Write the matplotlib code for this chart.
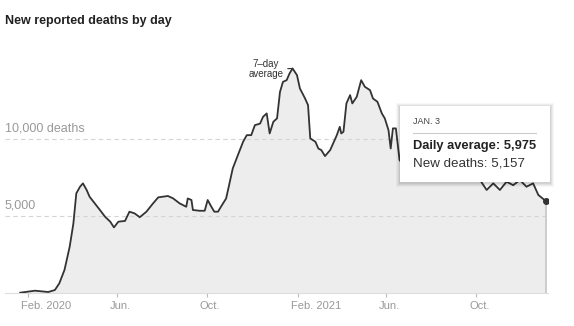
import pandas as pd
import matplotlib
matplotlib.use("Agg")
import matplotlib.pyplot as plt
import matplotlib.dates as mdates
import matplotlib.patches as mpatches
import matplotlib.transforms as mtransforms

# -------------------------------------------
# Data (7-day average of new deaths)
# -------------------------------------------
dates = [
    "2020-01-22", "2020-02-11", "2020-02-29", "2020-03-09", "2020-03-15", "2020-03-22",
    "2020-03-29", "2020-04-03", "2020-04-07", "2020-04-12", "2020-04-16", "2020-04-21",
    "2020-04-25", "2020-05-02", "2020-05-09", "2020-05-16", "2020-05-23", "2020-05-28",
    "2020-06-03", "2020-06-12", "2020-06-18", "2020-06-25", "2020-07-02", "2020-07-11",
    "2020-07-20", "2020-07-27", "2020-08-09", "2020-08-16", "2020-08-25", "2020-09-03",
    "2020-09-05", "2020-09-10", "2020-09-12", "2020-09-21", "2020-09-28", "2020-10-02",
    "2020-10-07", "2020-10-11", "2020-10-16", "2020-10-20", "2020-10-27", "2020-10-31",
    "2020-11-05", "2020-11-12", "2020-11-19", "2020-11-24", "2020-11-30", "2020-12-05",
    "2020-12-12", "2020-12-16", "2020-12-21", "2020-12-25", "2020-12-30", "2021-01-04",
    "2021-01-08", "2021-01-12", "2021-01-17", "2021-01-21", "2021-01-25", "2021-01-31",
    "2021-02-04", "2021-02-11", "2021-02-15", "2021-02-18", "2021-02-25", "2021-03-01",
    "2021-03-05", "2021-03-10", "2021-03-17", "2021-03-21", "2021-03-26", "2021-03-30",
    "2021-04-01", "2021-04-04", "2021-04-08", "2021-04-13", "2021-04-16", "2021-04-22",
    "2021-04-28", "2021-05-03", "2021-05-10", "2021-05-14", "2021-05-20", "2021-05-26",
    "2021-05-30", "2021-06-04", "2021-06-07", "2021-06-10", "2021-06-14", "2021-06-19",
    "2021-07-05", "2021-07-20", "2021-08-05", "2021-08-25", "2021-09-10", "2021-09-25",
    "2021-10-06", "2021-10-15", "2021-10-24", "2021-11-02", "2021-11-11", "2021-11-20",
    "2021-11-29", "2021-12-08", "2021-12-17", "2021-12-24", "2022-01-03",
]
avg_deaths = [
    20, 150, 65, 195, 630, 1500,
    3000, 4500, 6470, 6900, 7120, 6690,
    6250, 5820, 5390, 4950, 4630, 4260,
    4630, 4680, 5280, 5170, 4920, 5280,
    5820, 6210, 6300, 6150, 5820, 5600,
    6140, 6040, 5390, 5340, 5340, 6040,
    5600, 5280, 5280, 5600, 6140, 7000,
    8090, 8960, 9820, 10250, 10250, 10900,
    11000, 11440, 11660, 10360, 11120, 11340,
    13060, 13710, 13820, 14260, 14580, 14150,
    13280, 12630, 12200, 10040, 9820, 9380,
    9280, 8890, 9280, 9710, 10250, 10790,
    10360, 10470, 12310, 12850, 12310, 12740,
    13820, 13390, 13170, 12630, 12420, 11660,
    11340, 10580, 9380, 10690, 10690, 8640,
    7600, 8200, 9500, 10000, 9200, 8200,
    7340, 6690, 7120, 6690, 7230, 7000,
    7340, 6900, 7120, 6370, 5975,
]

tick_dates = ["2020-02-01", "2020-06-01", "2020-10-01", "2021-02-01", "2021-06-01", "2021-10-01"]
tick_labels = ["Feb. 2020", "Jun.", "Oct.", "Feb. 2021", "Jun.", "Oct."]

grid_values = [5000, 10000]
grid_labels = ["5,000", "10,000 deaths"]

tip_date = "JAN. 3"
tip_avg = "Daily average: 5,975"
tip_new = "New deaths: 5,157"

df = pd.DataFrame({"date": pd.to_datetime(dates), "avg": avg_deaths})

plt.rcParams["font.family"] = ["Liberation Sans", "DejaVu Sans"]

W, H = 574, 326
fig = plt.figure(figsize=(W / 100, H / 100), dpi=100)

# axes: 0 deaths at y=293px, 0.738 px per day, Feb 1 2020 at x=27.6px
x0_px, x1_px, y0_px, y1_px = 5, 548, 293, 40
ax = fig.add_axes([x0_px / W, 1 - y0_px / H, (x1_px - x0_px) / W, (y0_px - y1_px) / H])
ref = pd.Timestamp("2020-02-01")
px_per_day = 0.738
ax.set_xlim(mdates.date2num(ref + pd.Timedelta(days=(x0_px - 27.6) / px_per_day)),
            mdates.date2num(ref + pd.Timedelta(days=(x1_px - 27.6) / px_per_day)))
ax.set_ylim(0, (y0_px - y1_px) * 5000 / 77)

# area + line
ax.fill_between(df["date"], df["avg"], 0, color="#ededed", lw=0, zorder=1)
ax.plot(df["date"], df["avg"], color="#333333", lw=1.3, zorder=3, solid_joinstyle="round")

# gridlines + labels
for v, lab in zip(grid_values, grid_labels):
    ax.axhline(v, color="#d4d4d4", lw=0.8, ls=(0, (4, 3)), zorder=2)
    ax.annotate(lab, xy=(0, v), xycoords=("axes fraction", "data"), xytext=(0, 3),
                textcoords="offset points", ha="left", va="bottom", fontsize=9, color="#999999")

# hover line and end point
last_date = df["date"].iloc[-1]
last_val = df["avg"].iloc[-1]
ax.plot([last_date, last_date], [0, last_val], color="#cccccc", lw=1.4, zorder=2)
ax.plot([last_date], [last_val], "o", color="#333333", ms=4, zorder=4)

# x axis
for s in ["top", "left", "right"]:
    ax.spines[s].set_visible(False)
ax.spines["bottom"].set_color("#dddddd")
ax.spines["bottom"].set_linewidth(0.8)
ax.set_yticks([])
ax.set_xticks(pd.to_datetime(tick_dates))
ax.set_xticklabels(tick_labels, fontsize=8, color="#999999", ha="left")
ax.tick_params(axis="x", length=3, width=0.8, color="#bbbbbb", pad=2.5)
offset = mtransforms.ScaledTranslation(-7 / 100, 0, fig.dpi_scale_trans)
for lab in ax.get_xticklabels():
    lab.set_transform(lab.get_transform() + offset)
ax.patch.set_visible(False)

# 7-day average annotation
peak_i = df["avg"].idxmax()
ax.annotate("7\u2013day\naverage", xy=(df["date"][peak_i], df["avg"][peak_i]),
            xytext=(-9, -1), textcoords="offset pixels", ha="right", va="center",
            fontsize=7, color="#333333", multialignment="center", linespacing=1.0,
            arrowprops=dict(arrowstyle="-", color="#333333", lw=0.8, shrinkA=1, shrinkB=0))

# title
fig.text(5 / W, 1 - 21 / H, "New reported deaths by day", fontsize=9, fontweight="bold",
         color="#222222", ha="left", va="center")

# tooltip
tx0, ty0, tx1, ty1 = 400, 106, 550, 182
for k, a in [(4, 0.03), (3, 0.04), (2, 0.05), (1, 0.06)]:
    fig.patches.append(mpatches.Rectangle(((tx0 - k) / W, 1 - (ty1 + k + 1) / H),
                                          (tx1 - tx0 + 2 * k) / W, (ty1 - ty0 + 2 * k) / H,
                                          transform=fig.transFigure, facecolor="black",
                                          alpha=a, lw=0, zorder=5))
fig.patches.append(mpatches.Rectangle((tx0 / W, 1 - ty1 / H), (tx1 - tx0) / W, (ty1 - ty0) / H,
                                      transform=fig.transFigure, facecolor="white", lw=0, zorder=6))
fig.text(413 / W, 1 - 121 / H, tip_date, fontsize=6.5, color="#444444", ha="left", va="center", zorder=7)
fig.add_artist(plt.Line2D([413 / W, 536 / W], [1 - 133 / H, 1 - 133 / H],
                          transform=fig.transFigure, color="#cccccc", lw=0.8, zorder=7))
fig.text(413 / W, 1 - 146 / H, tip_avg, fontsize=9.3, fontweight="bold", color="#222222",
         ha="left", va="center", zorder=7)
fig.text(413 / W, 1 - 164 / H, tip_new, fontsize=9.6, color="#333333", ha="left", va="center", zorder=7)

fig.savefig("out.png", dpi=100)
